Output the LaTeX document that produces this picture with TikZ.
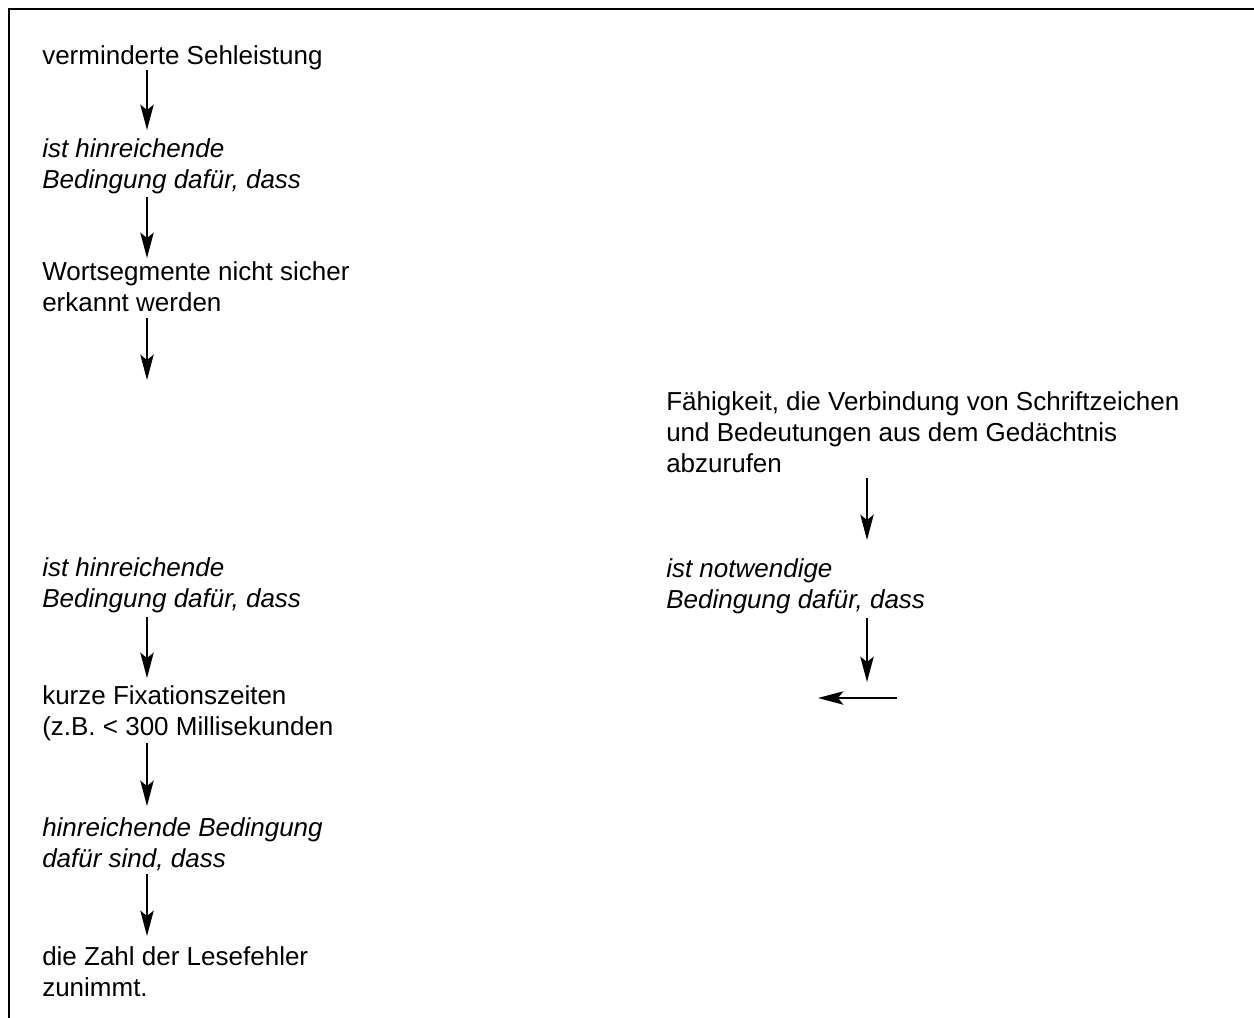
\documentclass[tikz,border=0pt]{standalone}
\usepackage{fontspec}
\setmainfont{Liberation Sans}
\usetikzlibrary{arrows.meta,calc}
\begin{document}
\begin{tikzpicture}[x=0.75pt,y=-0.75pt,
  txt/.style={anchor=base west,inner sep=0pt,align=left,
    font=\fontsize{19.5pt}{23.25pt}\selectfont},
  itx/.style={txt,font=\fontsize{19.5pt}{23.25pt}\selectfont\itshape},
  arr/.style={line width=1.5pt,-{Stealth[length=19pt,width=10pt,inset=4pt]}},
  frame/.style={line width=1.8pt}]
\useasboundingbox (0,0) rectangle (1254,1018);
\draw[frame] (9,1030) -- (9,9) -- (1270,9);
% left column (anchor = baseline of the last line)
\node[txt] (n1) at (42,64) {verminderte Sehleistung};
\node[itx] (n2) at (42,188) {ist hinreichende\\Bedingung dafür, dass};
\node[txt] (n3) at (42,311) {Wortsegmente nicht sicher\\erkannt werden};
\coordinate (e3) at (147,380);
\node[itx] (n4) at (42,607) {ist hinreichende\\Bedingung dafür, dass};
\node[txt] (n5) at (42,735) {kurze Fixationszeiten\\(z.B. < 300 Millisekunden};
\node[itx] (n6) at (42,867) {hinreichende Bedingung\\dafür sind, dass};
\node[txt] (n7) at (42,996) {die Zahl der Lesefehler\\zunimmt.};
% right column
\node[txt] (r1) at (666,472) {Fähigkeit, die Verbindung von Schriftzeichen\\und Bedeutungen aus dem Gedächtnis\\abzurufen};
\node[itx] (r2) at (666,608) {ist notwendige\\Bedingung dafür, dass};
\coordinate (e5) at (867,682);
\coordinate (hs) at (897,698);
\coordinate (he) at (818,698);
\coordinate (lx) at (147,0);
\coordinate (rx) at (867,0);
% arrows
\draw[arr] ($(n1.base -| lx)+(0,6)$) -- ($(n2.base -| lx)+(0,-58)$);
\draw[arr] ($(n2.base -| lx)+(0,9)$) -- ($(n3.base -| lx)+(0,-53)$);
\draw[arr] ($(n3.base -| lx)+(0,7)$) -- (e3);
\draw[arr] ($(n4.base -| lx)+(0,10)$) -- ($(n5.base -| lx)+(0,-57)$);
\draw[arr] ($(n5.base -| lx)+(0,8)$) -- ($(n6.base -| lx)+(0,-61)$);
\draw[arr] ($(n6.base -| lx)+(0,7)$) -- ($(n7.base -| lx)+(0,-60)$);
\draw[arr] ($(r1.base -| rx)+(0,6)$) -- ($(r2.base -| rx)+(0,-68)$);
\draw[arr] ($(r2.base -| rx)+(0,10)$) -- (e5);
\draw[arr] (hs) -- (he);
\end{tikzpicture}
\end{document}
